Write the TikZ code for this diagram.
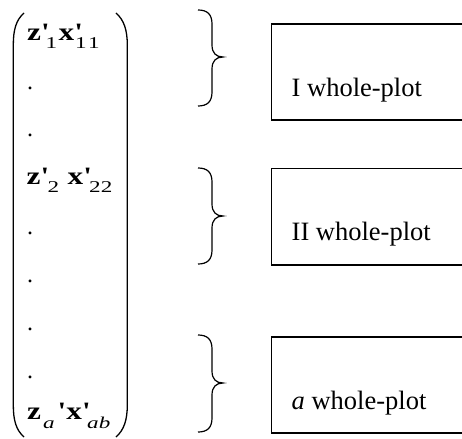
\documentclass[tikz,border=0pt]{standalone}
\usepackage{fontspec}
\setmainfont{Liberation Serif}
\newfontfamily\mfont[Ligatures=TeXOff]{Liberation Serif}
\newcommand{\mz}[1]{\scalebox{1.25}[1]{\fontsize{25}{25}\selectfont\mfont\bfseries #1}}
\newcommand{\ms}[1]{\raisebox{-8pt}{\scalebox{1.4}[1]{\fontsize{16.5}{16.5}\selectfont\mfont #1}}}
\newcommand{\pc}[2]{\rlap{\hspace*{#1pt}#2}}
\tikzset{
  paren/.style={line width=1.3pt},
  bracepath/.style={line width=1.2pt},
  plotbox/.style={draw, line width=1.5pt},
  lbl/.style={anchor=base west, inner sep=0pt, font=\fontsize{26.5}{26.5}\selectfont},
  mrow/.style={anchor=base west, inner sep=0pt},
}
\begin{document}
\begin{tikzpicture}[x=1pt,y=-1pt]
\clip (0,0) rectangle (462,438);
% parentheses
\draw[paren] (24,13) .. controls (16,20) and (13.3,30) .. (13.3,45) -- (13.3,405) .. controls (13.3,420) and (16,430) .. (24,437);
\draw[paren] (116,13) .. controls (124,20) and (127.3,30) .. (127.3,45) -- (127.3,405) .. controls (127.3,420) and (124,430) .. (116,437);
% rows
\node[mrow] (r1) at (27,41) {\pc{0}{\mz{z'}}\pc{18.5}{\ms{1}}\pc{31.5}{\mz{x'}}\pc{48}{\ms{1\kern1pt1}}\hspace*{76pt}};
\node[mrow] (d1) at (27,90) {\fontsize{24}{24}\selectfont .};
\node[mrow] (d2) at (27,137) {\fontsize{24}{24}\selectfont .};
\node[mrow] (r2) at (26.5,185) {\pc{0}{\mz{z'}}\pc{21}{\ms{2}}\pc{41}{\mz{x'}}\pc{62.5}{\ms{22}}\hspace*{82pt}};
\node[mrow] (d3) at (27,234) {\fontsize{24}{24}\selectfont .};
\node[mrow] (d4) at (27,282) {\fontsize{24}{24}\selectfont .};
\node[mrow] (d5) at (27,330) {\fontsize{24}{24}\selectfont .};
\node[mrow] (d6) at (27,378) {\fontsize{24}{24}\selectfont .};
\node[mrow] (r3) at (27,419) {\pc{0}{\mz{z}}\pc{16}{\raisebox{-1pt}{\ms{\itshape a}}}\pc{30.5}{\mz{'x'}}\pc{60}{\raisebox{-1pt}{\ms{\itshape ab}}}\hspace*{84pt}};
% braces
\foreach \t/\m/\b in {10/57/106, 168/216/264, 335/383/432}{
  \draw[bracepath] (198,\t) .. controls (207,\t) and (212,{\t+4}) .. (212,{\t+14})
    -- (212,{\m-12}) .. controls (212,{\m-4}) and (216,\m) .. (223,\m)
    .. controls (216,\m) and (212,{\m+4}) .. (212,{\m+12})
    -- (212,{\b-14}) .. controls (212,{\b-4}) and (207,\b) .. (198,\b);
}
% boxes
\node[plotbox, anchor=north west, minimum width=200pt, minimum height=96pt, inner sep=0pt] (b1) at (270.7,23.3) {};
\node[plotbox, anchor=north west, minimum width=200pt, minimum height=96pt, inner sep=0pt] (b2) at (270.7,168) {};
\node[plotbox, anchor=north west, minimum width=200pt, minimum height=96pt, inner sep=0pt] (b3) at (270.7,336) {};
\node[lbl] (t1) at (291.5,97) {I whole-plot};
\node[lbl] (t2) at (291.5,240.5) {II whole-plot};
\node[lbl] (t3) at (291.5,409) {\textit{a} whole-plot};
\end{tikzpicture}
\end{document}
